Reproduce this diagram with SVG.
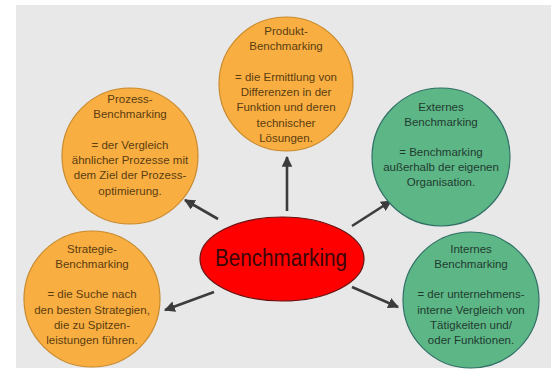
<svg xmlns="http://www.w3.org/2000/svg" width="551" height="371" viewBox="0 0 551 371">
<defs>
<style>
.bg{fill:#e8e8e8}
.or{fill:#f9ae42;stroke:#c98a2c;stroke-width:1.2}
.gr{fill:#5db686;stroke:#2f6f66;stroke-width:1.2}
.t{font-family:"Liberation Sans",Arial,sans-serif;font-size:11.5px;text-anchor:middle}
.to{fill:#5a3d10}
.tg{fill:#1f3b30}
.arr{stroke:#3c3c3c;stroke-width:2.6;fill:none;marker-end:url(#ah)}
</style>
<marker id="ah" viewBox="0 0 10 10" refX="9" refY="5" markerWidth="4.2" markerHeight="4.2" orient="auto" markerUnits="strokeWidth">
<path d="M0,0 L10,5 L0,10 z" fill="#3c3c3c"/>
</marker>
</defs>
<rect x="0" y="0" width="551" height="371" fill="#ffffff"/>
<rect class="bg" x="16" y="5" width="535" height="363"/>

<g id="connectors">
<line class="arr" x1="287" y1="211" x2="287" y2="157"/>
<line class="arr" x1="218" y1="219" x2="185" y2="200"/>
<line class="arr" x1="352" y1="226" x2="391" y2="201"/>
<line class="arr" x1="214" y1="292" x2="165" y2="310"/>
<line class="arr" x1="352" y1="287" x2="398" y2="307"/>
</g>

<g id="produkt">
<circle class="or" cx="286" cy="84" r="67"/>
<text class="t to" x="286"><tspan x="286" y="35">Produkt-</tspan><tspan x="286" y="50">Benchmarking</tspan><tspan x="286" y="81">= die Ermittlung von</tspan><tspan x="286" y="96">Differenzen in der</tspan><tspan x="286" y="111">Funktion und deren</tspan><tspan x="286" y="127">technischer</tspan><tspan x="286" y="142">Lösungen.</tspan></text>
</g>

<g id="prozess">
<circle class="or" cx="130" cy="156" r="68"/>
<text class="t to"><tspan x="130" y="103">Prozess-</tspan><tspan x="130" y="118">Benchmarking</tspan><tspan x="130" y="149">= der Vergleich</tspan><tspan x="130" y="164">ähnlicher Prozesse mit</tspan><tspan x="130" y="179">dem Ziel der Prozess-</tspan><tspan x="130" y="195">optimierung.</tspan></text>
</g>

<g id="externes">
<circle class="gr" cx="441" cy="157" r="69"/>
<text class="t tg"><tspan x="441" y="111">Externes</tspan><tspan x="441" y="126">Benchmarking</tspan><tspan x="441" y="156">= Benchmarking</tspan><tspan x="441" y="171">außerhalb der eigenen</tspan><tspan x="441" y="186">Organisation.</tspan></text>
</g>

<g id="strategie">
<circle class="or" cx="92" cy="299" r="68"/>
<text class="t to"><tspan x="92" y="253">Strategie-</tspan><tspan x="92" y="268">Benchmarking</tspan><tspan x="92" y="298">= die Suche nach</tspan><tspan x="92" y="314">den besten Strategien,</tspan><tspan x="92" y="329">die zu Spitzen-</tspan><tspan x="92" y="344">leistungen führen.</tspan></text>
</g>

<g id="internes">
<circle class="gr" cx="471" cy="300" r="68"/>
<text class="t tg"><tspan x="471" y="253">Internes</tspan><tspan x="471" y="268">Benchmarking</tspan><tspan x="471" y="298">= der unternehmens-</tspan><tspan x="471" y="314">interne Vergleich von</tspan><tspan x="471" y="329">Tätigkeiten und/</tspan><tspan x="471" y="344">oder Funktionen.</tspan></text>
</g>

<g id="center">
<ellipse cx="282" cy="259" rx="82" ry="42" fill="#ff0000" stroke="#6a1010" stroke-width="1.2"/>
<text x="281" y="266" font-family="Liberation Sans,Arial,sans-serif" font-size="23" fill="#3a0808" text-anchor="middle" textLength="132" lengthAdjust="spacingAndGlyphs">Benchmarking</text>
</g>
</svg>
